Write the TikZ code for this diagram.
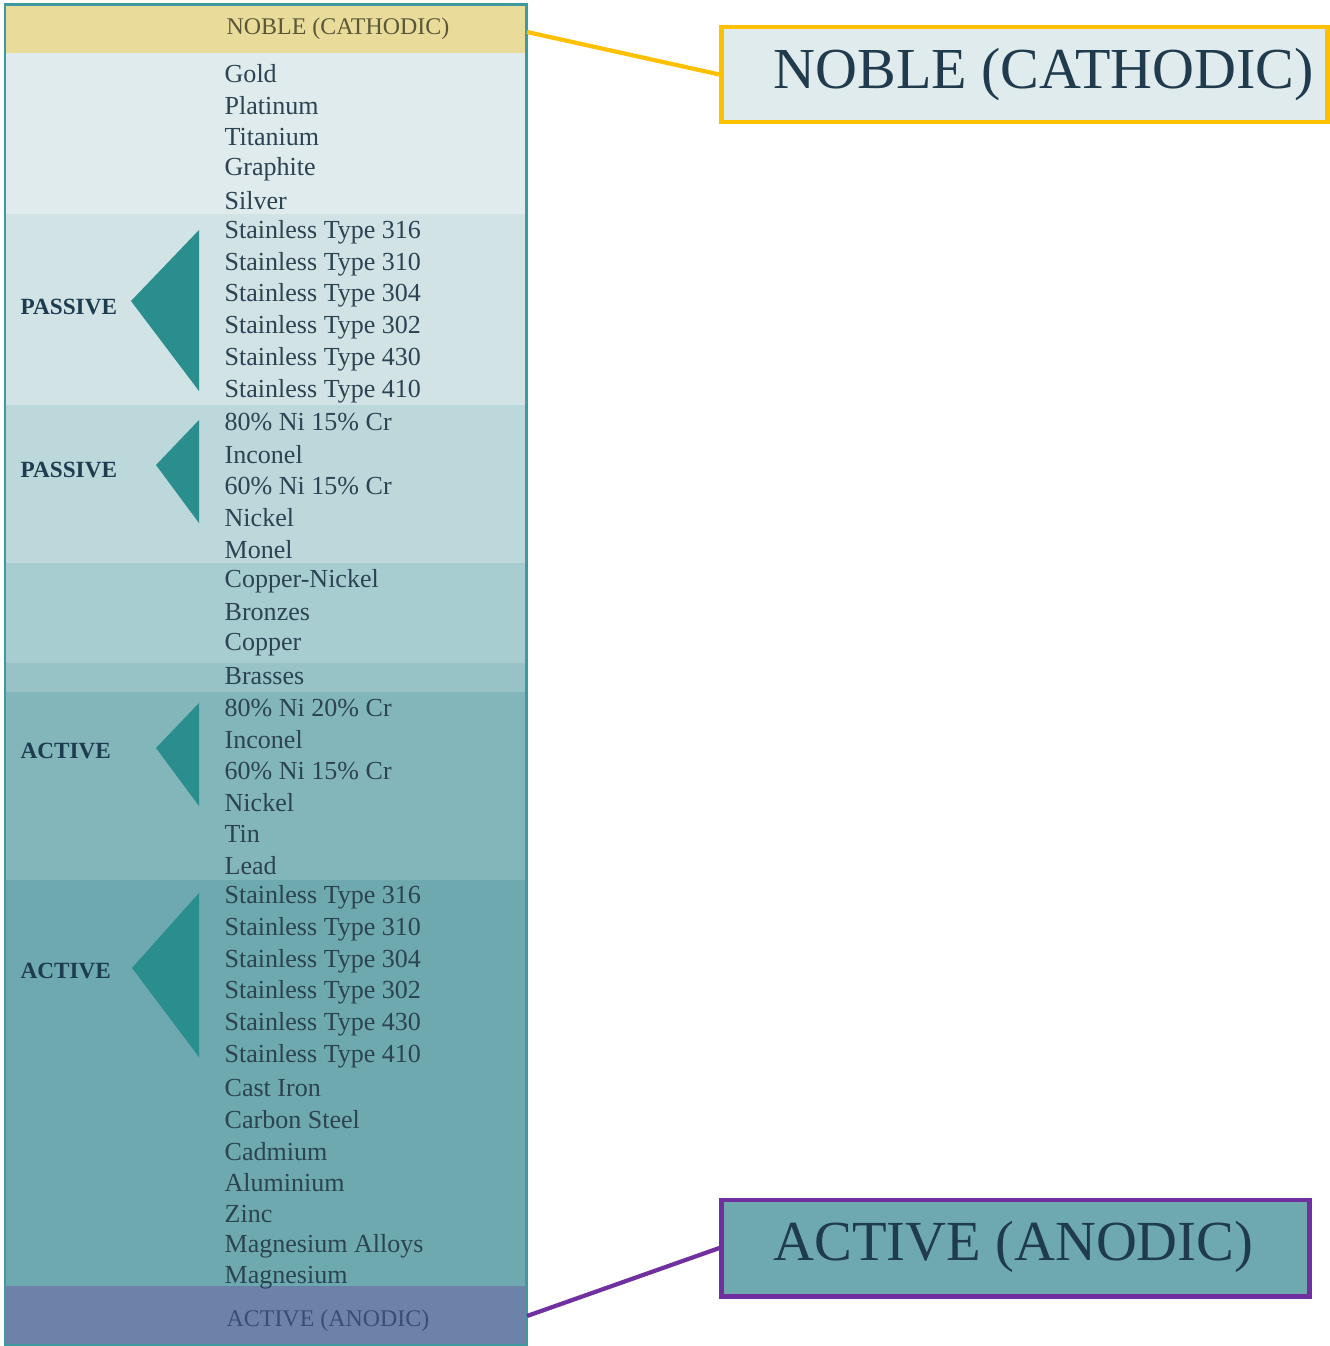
\documentclass[tikz,border=0pt]{standalone}
\usepackage{fontspec}
\setmainfont{Liberation Serif}
\definecolor{bandY}{HTML}{E9DC9A}
\definecolor{bandA}{HTML}{DFEBEC}
\definecolor{bandB}{HTML}{D1E3E5}
\definecolor{bandC}{HTML}{BCD8DB}
\definecolor{bandD}{HTML}{A8CDD0}
\definecolor{bandE}{HTML}{97C3C7}
\definecolor{bandF}{HTML}{83B6BB}
\definecolor{bandG}{HTML}{6DA9AF}
\definecolor{bandH}{HTML}{6C82A8}
\definecolor{triCol}{HTML}{2A8E8F}
\definecolor{txtCol}{HTML}{2B4352}
\definecolor{lblCol}{HTML}{1E3C50}
\definecolor{frameCol}{HTML}{3F9AA0}
\definecolor{yelCol}{HTML}{FFC000}
\definecolor{purCol}{HTML}{7030A0}
\definecolor{nobleTxt}{HTML}{5A5638}
\definecolor{anodTxt}{HTML}{3A4E72}
\definecolor{bigTxt}{HTML}{1F3B4D}
\tikzset{
  item/.style={anchor=west, inner sep=0pt, text=txtCol, font=\fontsize{7.4}{9}\selectfont},
  grouplbl/.style={anchor=west, inner sep=0pt, text=lblCol, font=\fontsize{6.6}{8}\selectfont\bfseries},
  endlbl/.style={anchor=west, inner sep=0pt, font=\fontsize{6.8}{8}\selectfont},
  wedge/.style={fill=triCol},
  callout/.style={draw, line width=1.4pt, inner sep=0pt},
  bigtext/.style={anchor=west, inner sep=0pt, text=bigTxt},
  leader/.style={line width=1.2pt}
}
\begin{document}
\begin{tikzpicture}[x=0.01cm, y=-0.01cm]
\useasboundingbox (0,0) rectangle (1329,1346);
% bands
\fill[bandY] (5,5) rectangle (526,53);
\fill[bandA] (5,53) rectangle (526,214);
\fill[bandB] (5,214) rectangle (526,405);
\fill[bandC] (5,405) rectangle (526,563);
\fill[bandD] (5,563) rectangle (526,663);
\fill[bandE] (5,663) rectangle (526,692);
\fill[bandF] (5,692) rectangle (526,880);
\fill[bandG] (5,880) rectangle (526,1286);
\fill[bandH] (5,1286) rectangle (526,1345);
\draw[frameCol, line width=0.85pt] (5,5) rectangle (526,1345);
% end labels
\node[endlbl, text=nobleTxt] (nobleSmall) at (226,29) {NOBLE (CATHODIC)};
\node[endlbl, text=anodTxt] (anodSmall) at (226,1321) {ACTIVE (ANODIC)};
% wedges
\fill[wedge] (199,230) -- (131,301) -- (199,391) -- cycle;
\fill[wedge] (199,420) -- (156,465) -- (199,523) -- cycle;
\fill[wedge] (199,703) -- (156,748) -- (199,806) -- cycle;
\fill[wedge] (199,893) -- (132,968) -- (199,1057) -- cycle;
% group labels
\node[grouplbl] (g1) at (20,307) {PASSIVE};
\node[grouplbl] (g2) at (20,470) {PASSIVE};
\node[grouplbl] (g3) at (20,751) {ACTIVE};
\node[grouplbl] (g4) at (20,971) {ACTIVE};
% items
\foreach \t [count=\i] in {Gold, Platinum, Titanium, Graphite, Silver,
  Stainless Type 316, Stainless Type 310, Stainless Type 304, Stainless Type 302, Stainless Type 430, Stainless Type 410,
  80\% Ni 15\% Cr, Inconel, 60\% Ni 15\% Cr, Nickel, Monel,
  Copper-Nickel, Bronzes, Copper, Brasses,
  80\% Ni 20\% Cr, Inconel, 60\% Ni 15\% Cr, Nickel, Tin, Lead,
  Stainless Type 316, Stainless Type 310, Stainless Type 304, Stainless Type 302, Stainless Type 430, Stainless Type 410,
  Cast Iron, Carbon Steel, Cadmium, Aluminium, Zinc, Magnesium Alloys, Magnesium}
  \node[item] (m\i) at (224,{74+(\i-1)*31.68}) {\t};
% callouts
\node[callout, draw=yelCol, fill=bandA, minimum width=6.05cm, minimum height=0.95cm] (nobleBox) at (1024.5,74.5) {};
\node[bigtext, font=\fontsize{16.5}{18}\selectfont] (nobleBig) at (773,75) {NOBLE (CATHODIC)};
\node[callout, draw=purCol, fill=bandG, minimum width=5.87cm, minimum height=0.96cm] (anodBox) at (1015.5,1248) {};
\node[bigtext, font=\fontsize{16.1}{18}\selectfont] (anodBig) at (773,1247) {ACTIVE (ANODIC)};
\coordinate (nobleTap) at (527,32);
\coordinate (anodTap) at (527,1316);
\draw[leader, yelCol] (nobleTap) -- (nobleBox.west);
\draw[leader, purCol] (anodTap) -- (anodBox.west);
\end{tikzpicture}
\end{document}
